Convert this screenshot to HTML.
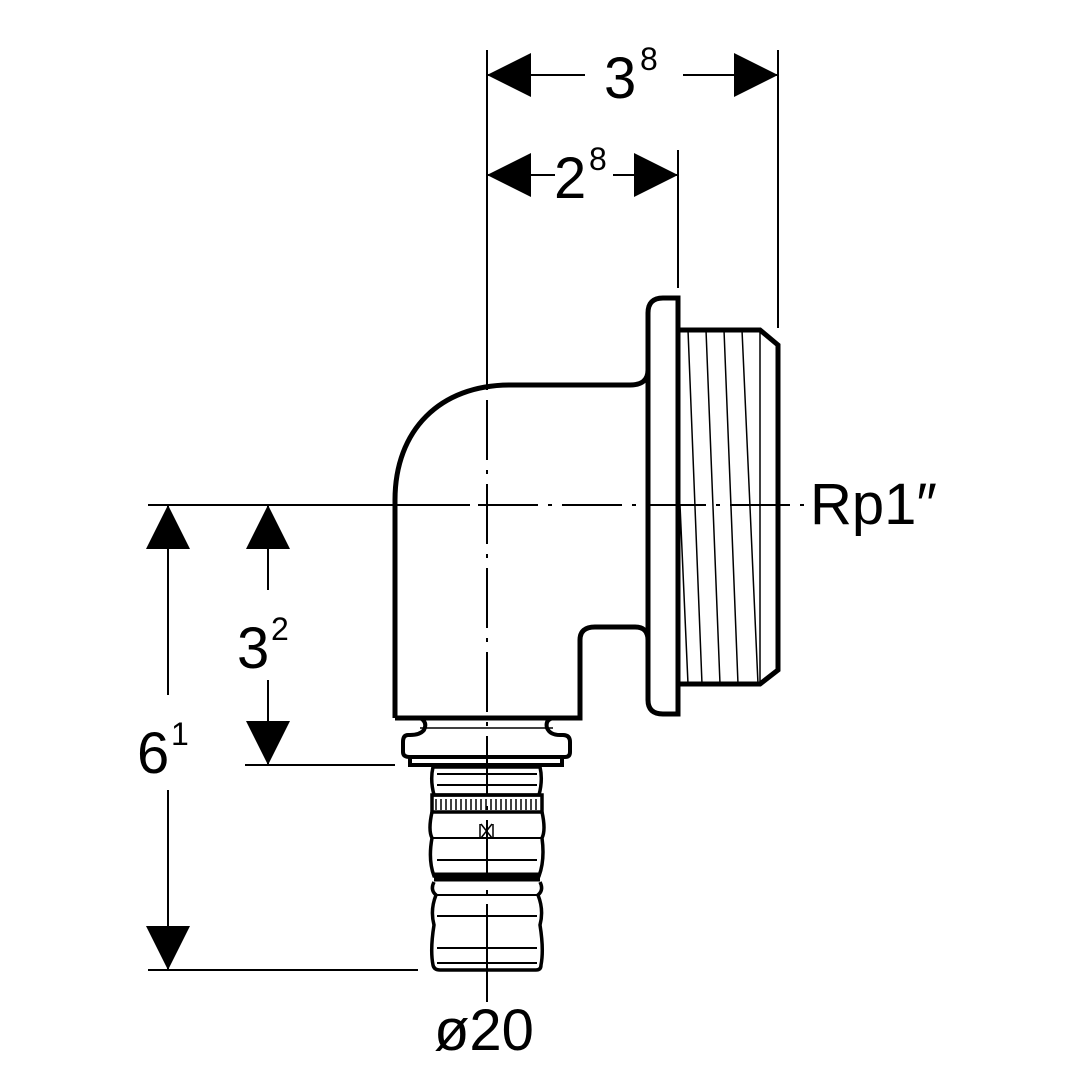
<!DOCTYPE html>
<html><head><style>body{margin:0;background:#fff}svg{display:block}text{font-family:"Liberation Sans",sans-serif;fill:#000}</style></head><body>
<svg width="1080" height="1080" viewBox="0 0 1080 1080" xmlns="http://www.w3.org/2000/svg">
<g stroke="#000" fill="none">
<path d="M487 50V390" stroke-width="2"/>
<path d="M487 400V930" stroke-width="2" stroke-dasharray="60,10,4,10"/>
<path d="M487 930V1002" stroke-width="2"/>
<path d="M148 505H470" stroke-width="2"/>
<path d="M478 505H810" stroke-width="2" stroke-dasharray="60,10,4,10"/>
<path d="M778 50V328M678 150V288M245 765H395M148 970H418" stroke-width="2"/>
<path d="M487 75H585M683 75H778M487 175H555M613 175H678M168 505V695M168 790V970M268 505V590M268 680V765" stroke-width="2"/>
<path d="M395 718V500C395 430 440 385 510 385H630Q648 385 648 370" stroke-width="5"/>
<path d="M395 718H580V640Q580 627 595 627H635Q648 627 648 640" stroke-width="5"/>
<path d="M678 298H663Q648 298 648 313V700Q648 714 663 714H678Z" stroke-width="5"/>
<path d="M680 330H760L778 345V670L760 684H680" stroke-width="5"/>
<path d="M760 330V684M688 330L702 684M706 330L720 684M724 330L738 684M742 330L758 684M680 505L688 684" stroke-width="1.5"/>
<path d="M420 718Q428 722 424 730Q420 735 410 735H408Q403 735 403 742V752Q403 757 410 757H565Q570 757 570 752V742Q570 735 563 735H560Q550 735 547 728Q545 720 553 718" stroke-width="4"/>
<path d="M420 728H553" stroke-width="1.5"/>
<path d="M410 757V765H562V757" stroke-width="4"/>
<path d="M433 767Q430 780 434 795H539Q543 780 540 767Z" stroke-width="3.5"/>
<path d="M437 774H537M437 785H537" stroke-width="2"/>
<rect x="432" y="795" width="110" height="17" stroke-width="3.5"/>
<path d="M436 799V810M441 799V810M446 799V810M451 799V810M456 799V810M461 799V810M466 799V810M471 799V810M476 799V810M481 799V810M486 799V810M491 799V810M496 799V810M501 799V810M506 799V810M511 799V810M516 799V810M521 799V810M526 799V810M531 799V810M536 799V810" stroke-width="1.5"/>
<path d="M432 812Q428 830 432 838Q428 860 434 876H539Q545 860 542 838Q546 830 542 812" stroke-width="3.5"/>
<path d="M432 838H542M437 860H537" stroke-width="2"/>
<path d="M480 824V838M493 824V838M481 824L492 838M492 824L481 838" stroke-width="1.5"/>
<path d="M434 877H540" stroke-width="9"/>
<path d="M434 882Q430 890 436 895Q430 910 434 925Q430 950 433 965Q434 970 440 970H536Q541 970 541 965Q544 950 540 925Q544 910 538 895Q544 890 540 882" stroke-width="3.5"/>
<path d="M436 895H538M437 916H537M437 948H537M437 963H537" stroke-width="2"/>
</g>
<g fill="#000">
<path d="M487 75L531 53V97Z"/><path d="M778 75L734 53V97Z"/>
<path d="M487 175L531 153V197Z"/><path d="M678 175L634 153V197Z"/>
<path d="M168 505L146 549H190Z"/><path d="M168 970L146 926H190Z"/>
<path d="M268 505L246 549H290Z"/><path d="M268 765L246 721H290Z"/>
</g>
<text x="604" y="98" font-size="58">3</text><text x="640" y="70" font-size="32">8</text>
<text x="554" y="198" font-size="58">2</text><text x="589" y="170" font-size="32">8</text>
<text x="237" y="668" font-size="58">3</text><text x="271" y="640" font-size="32">2</text>
<text x="137" y="773" font-size="58">6</text><text x="171" y="745" font-size="32">1</text>
<text x="810" y="524" font-size="58">Rp1″</text>
<text x="434" y="1050" font-size="58">ø20</text>
</svg>
</body></html>
